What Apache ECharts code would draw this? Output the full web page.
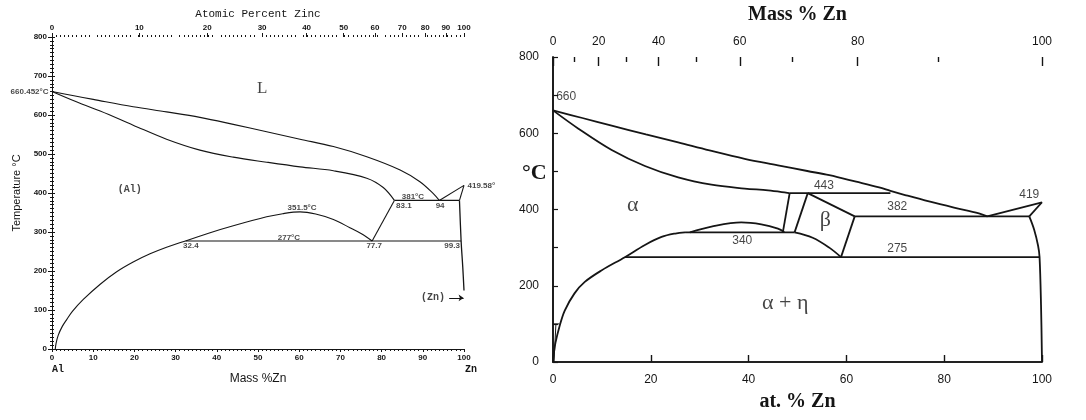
<!DOCTYPE html>
<html><head><meta charset="utf-8">
<script src="https://cdn.jsdelivr.net/npm/echarts@6/dist/echarts.min.js"></script>
<style>html,body{margin:0;padding:0;background:#fff}#c{width:1086px;height:420px}</style>
</head><body><div id="c"></div>
<script>
// ===== Left diagram: x = mass % Zn, y = temperature (°C) =====
const leftLiquidus = [[0,660.452],[5,650],[10,640],[19.7,621],[27.8,608],[35.9,594],[44,576],[52.1,557],[60.2,538],[68.3,519],[76.4,493],[84.5,459],[89.3,429],[92.5,399],[94,381]];
const leftSolidus = [[0,660.452],[5,638],[11.7,610],[19.7,574],[27.8,538],[35.9,510],[44,492],[52.1,479],[60.2,467],[68.3,457],[76.4,438],[80.4,414],[83.1,381]];
const leftAlSolvus = [[0.8,0],[1.0,15],[1.5,35],[2.5,58],[3.6,76],[5,97],[7.6,127],[11.7,166],[15.7,198],[19.7,223],[23.8,244],[27.8,261],[32.4,277]];
const leftGap = [[32.4,277],[38,297],[44,316],[52.1,339],[56,347],[60.2,351.5],[64,346],[68.3,332],[72.3,311],[75,296],[77.7,277]];
const leftEutectoid = [[32.4,277],[99.3,277]];
const leftMonotectic = [[83.1,381],[98.9,381]];
const leftBetaEdge = [[77.7,277],[83.1,381]];
const leftZnLiquidus = [[94,381],[100,419.58]];
const leftZnSolidus = [[98.9,381],[100,419.58]];
const leftZnSolvus = [[98.9,381],[99.3,277],[99.7,210],[100,150]];
const leftZnArrow = [[96.4,131],[99.9,131]];
const leftTopAtLabels = [0,10,20,30,40,50,60,70,80,90,100];
const leftTopAtPos = [0,21.2,37.7,51.0,61.8,70.8,78.4,85.0,90.6,95.6,100];
const leftNumNotes = [['351.5°C',60.7,362],['381°C',87.6,391],['83.1',85.4,368],['94',94.2,368],['277°C',57.5,286],['32.4',33.7,264],['77.7',78.2,264],['99.3',97.1,264]];
const leftPhaseNotes = [['(Al)',18.9,410],['(Zn)',92.5,131]];
const leftBigNotes = [['L',51,669]];
const leftMeltNotes = [['660.452°C',0,660.452,'left'],['419.58°',100,419.58,'right']];

// ===== Right diagram: x = at. % Zn, y = temperature (°C) =====
const rightLiquidus = [[0,660],[6,640],[12,620],[19,597],[25.6,576],[32,555],[39.2,533],[46,516],[52,501],[56.5,490],[62,473],[66.7,458],[69,449],[72,438],[76.9,421],[82,405],[87.1,390],[88.8,382]];
const rightSolidus = [[0,660],[5.2,612],[12,556],[18.8,514],[25.6,484],[32.4,465],[39.2,455],[44,450],[48.4,443]];
const right443 = [[48.4,443],[69,443]];
const rightAlphaBeta = [[48.4,443],[47,340]];
const rightBetaLeft = [[52.1,443],[49.4,340]];
const rightBetaTop = [[52.1,443],[61.7,382]];
const rightBetaRight = [[61.7,382],[58.9,275]];
const rightBetaBottom = [[49.4,340],[53.1,326],[56.5,300],[58.9,275]];
const right340 = [[27,340],[49.4,340]];
const rightDome = [[28,340],[32.4,355],[38.5,366],[42.6,361],[46,350],[47.3,341]];
const rightAlSolvus = [[0,0],[0.2,25],[0.5,50],[1.3,92],[2.4,135],[4.4,180],[6.5,210],[9.9,240],[14.7,275],[18.8,307],[22.2,328],[25,337],[27,340]];
const right275 = [[14.7,275],[99.5,275]];
const right382 = [[61.7,382],[97.4,382]];
const rightZnLiquidus = [[88.8,382],[100,419]];
const rightZnSolidus = [[97.4,382],[100,419]];
const rightZnSolvus = [[97.4,382],[98.4,347],[99.2,305],[99.5,275],[99.8,150],[100,0]];
const rightLowStep = [[0,100],[1.3,100]];
const rightLowStepEdge = [[0.6,100],[0.2,0]];
const rightTopMassLabels = [0,20,40,60,80,100];
const rightTopMassPos = [0,9.35,21.6,38.2,62.3,100];
const rightTopMinorPos = [4.4,15.0,29.2,49.0,78.8];
const rightNumNotes = [['660',2.7,695],['443',55.4,463],['382',70.4,407],['419',97.4,439],['340',38.7,318],['275',70.4,297]];
const rightPhaseNotes = [['α',16.3,411],['β',55.7,373],['α + η',47.5,153]];

const INK = '#151515';
function lookup(pos, labels) {
  return function (v) {
    let b = 0;
    for (let i = 0; i < pos.length; i++) if (Math.abs(pos[i] - v) < Math.abs(pos[b] - v)) b = i;
    return String(labels[b]);
  };
}
function line(data, xi, yi, w, smooth) {
  return {type:'line', xAxisIndex:xi, yAxisIndex:yi, data:data, symbol:'none', showSymbol:false,
    smooth: smooth ? 0.35 : false, lineStyle:{color:INK, width:w}, silent:true, clip:false, z:3};
}
function notes(arr, xi, yi, style) {
  return {type:'scatter', xAxisIndex:xi, yAxisIndex:yi, symbolSize:1, silent:true, clip:false, z:6,
    itemStyle:{color:'transparent'},
    data: arr.map(n => ({name:n[0], value:[n[1], n[2]],
      label: n[3] ? {position:n[3], distance:3} : undefined})),
    label: Object.assign({show:true, position:'inside', color:INK, formatter:p => p.name}, style)};
}
function tickAxis(grid, pos, values, len, width, inside) {
  return {gridIndex:grid, type:'value', position:pos, min:0, max:100,
    axisLine:{show:false}, axisLabel:{show:false}, splitLine:{show:false},
    axisTick:{customValues:values, inside:inside, length:len, lineStyle:{color:INK, width:width}}};
}

const chart = echarts.init(document.getElementById('c'), null, {renderer:'canvas'});
const thin = {lineStyle:{color:INK, width:1}};
const thick = {lineStyle:{color:INK, width:1.6}};
const smallNum = {fontSize:8, fontFamily:'Liberation Sans', fontWeight:'bold', color:INK};
const handNum = {fontSize:12, fontFamily:'Liberation Sans', color:INK};

chart.setOption({
  animation:false,
  backgroundColor:'#fff',
  grid:[
    {left:52, right:622, top:37, bottom:71},
    {left:553, right:44, top:50, bottom:58}
  ],
  xAxis:[
    {gridIndex:0, type:'value', position:'bottom', min:0, max:100, interval:10,
      axisLine:thin, axisTick:{length:3, lineStyle:{color:INK}},
      minorTick:{show:true, splitNumber:10, length:2, lineStyle:{color:INK}},
      axisLabel:Object.assign({margin:5}, smallNum), splitLine:{show:false},
      name:'Mass %Zn', nameLocation:'middle', nameGap:24,
      nameTextStyle:{fontSize:12, fontFamily:'Liberation Sans', color:INK}},
    {gridIndex:0, type:'value', position:'top', min:0, max:100,
      axisLine:thin, axisTick:{show:false},
      axisLabel:Object.assign({customValues:leftTopAtPos, margin:5, formatter:lookup(leftTopAtPos, leftTopAtLabels)}, smallNum),
      splitLine:{show:false},
      name:'Atomic Percent Zinc', nameLocation:'middle', nameGap:17,
      nameTextStyle:{fontSize:11, fontFamily:'Liberation Mono', color:INK}},
    {gridIndex:0, type:'value', position:'top', min:0, max:100, interval:10,
      axisLine:{show:false}, axisTick:{show:false}, axisLabel:{show:false}, splitLine:{show:false},
      minorTick:{show:true, splitNumber:10, length:2, lineStyle:{color:INK}}},
    tickAxis(0, 'top', leftTopAtPos, 4, 1, false),
    {gridIndex:1, type:'value', position:'bottom', min:0, max:100, interval:20,
      axisLine:thick, axisTick:{inside:true, length:7, lineStyle:{color:INK, width:1.4}},
      axisLabel:Object.assign({margin:12}, handNum), splitLine:{show:false},
      name:'at. % Zn', nameLocation:'middle', nameGap:30,
      nameTextStyle:{fontSize:20, fontFamily:'Liberation Serif', fontWeight:'bold', color:INK}},
    {gridIndex:1, type:'value', position:'top', min:0, max:100,
      axisLine:thick, axisTick:{show:false},
      axisLabel:Object.assign({customValues:rightTopMassPos, margin:9, formatter:lookup(rightTopMassPos, rightTopMassLabels)}, handNum),
      splitLine:{show:false},
      name:'Mass % Zn', nameLocation:'middle', nameGap:32,
      nameTextStyle:{fontSize:20, fontFamily:'Liberation Serif', fontWeight:'bold', color:INK}},
    tickAxis(1, 'top', rightTopMassPos, 9, 1.4, true),
    tickAxis(1, 'top', rightTopMinorPos, 5, 1.4, true)
  ],
  yAxis:[
    {gridIndex:0, type:'value', position:'left', min:0, max:800, interval:100,
      axisLine:thin, axisTick:{length:4, lineStyle:{color:INK}},
      minorTick:{show:true, splitNumber:10, length:2, lineStyle:{color:INK}},
      axisLabel:Object.assign({margin:5}, smallNum), splitLine:{show:false},
      name:'Temperature °C', nameLocation:'middle', nameGap:30,
      nameTextStyle:{fontSize:11, fontFamily:'Liberation Sans', color:INK}},
    {gridIndex:0, type:'value', position:'right', min:0, max:800, interval:100,
      axisLine:thin, axisTick:{length:3, lineStyle:{color:INK}},
      minorTick:{show:true, splitNumber:10, length:2, lineStyle:{color:INK}},
      axisLabel:{show:false}, splitLine:{show:false}},
    {gridIndex:1, type:'value', position:'left', min:0, max:800, interval:100,
      axisLine:thick, axisTick:{inside:true, length:5, lineStyle:{color:INK, width:1.2}},
      axisLabel:Object.assign({margin:14, formatter:v => (v % 200 === 0 ? String(v) : '')}, handNum),
      splitLine:{show:false}},
    {gridIndex:1, type:'value', position:'right', min:0, max:800,
      axisLine:thick, axisTick:{show:false}, axisLabel:{show:false}, splitLine:{show:false}}
  ],
  graphic:[
    {type:'text', left:52, top:364, style:{text:'Al', font:'bold 10px "Liberation Mono"', fill:INK}},
    {type:'text', left:465, top:364, style:{text:'Zn', font:'bold 10px "Liberation Mono"', fill:INK}},
    {type:'text', left:522, top:162, style:{text:'°C', font:'bold 22px "Liberation Serif"', fill:INK}}
  ],
  series:[
    line(leftLiquidus,0,0,1.1,true),
    line(leftSolidus,0,0,1.1,true),
    line(leftAlSolvus,0,0,1.1,true),
    line(leftGap,0,0,1.1,true),
    line(leftEutectoid,0,0,1.1),
    line(leftMonotectic,0,0,1.1),
    line(leftBetaEdge,0,0,1.1),
    line(leftZnLiquidus,0,0,1.1),
    line(leftZnSolidus,0,0,1.1),
    line(leftZnSolvus,0,0,1.3,true),
    {type:'line', xAxisIndex:0, yAxisIndex:0, data:[], silent:true,
      markLine:{silent:true, symbol:['none','arrow'], symbolSize:5, label:{show:false},
        lineStyle:{color:INK, width:1, type:'solid'},
        data:[[{coord:leftZnArrow[0]},{coord:leftZnArrow[1]}]]}},
    notes(leftNumNotes,0,0,smallNum),
    notes(leftPhaseNotes,0,0,{fontSize:10, fontFamily:'Liberation Mono', fontWeight:'bold'}),
    notes(leftBigNotes,0,0,{fontSize:17, fontFamily:'Liberation Serif'}),
    notes(leftMeltNotes,0,0,smallNum),

    line(rightLiquidus,4,2,1.8,true),
    line(rightSolidus,4,2,1.8,true),
    line(right443,4,2,1.8),
    line(rightAlphaBeta,4,2,1.8),
    line(rightBetaLeft,4,2,1.8),
    line(rightBetaTop,4,2,1.8),
    line(rightBetaRight,4,2,1.8),
    line(rightBetaBottom,4,2,1.8,true),
    line(right340,4,2,1.8),
    line(rightDome,4,2,1.8,true),
    line(rightAlSolvus,4,2,1.8,true),
    line(right275,4,2,1.8),
    line(right382,4,2,1.8),
    line(rightZnLiquidus,4,2,1.8),
    line(rightZnSolidus,4,2,1.8),
    line(rightZnSolvus,4,2,1.8,true),
    line(rightLowStep,4,2,1),
    line(rightLowStepEdge,4,2,1),
    notes(rightNumNotes,4,2,handNum),
    notes(rightPhaseNotes,4,2,{fontSize:22, fontFamily:'Liberation Serif'})
  ]
});
</script>
</body></html>
